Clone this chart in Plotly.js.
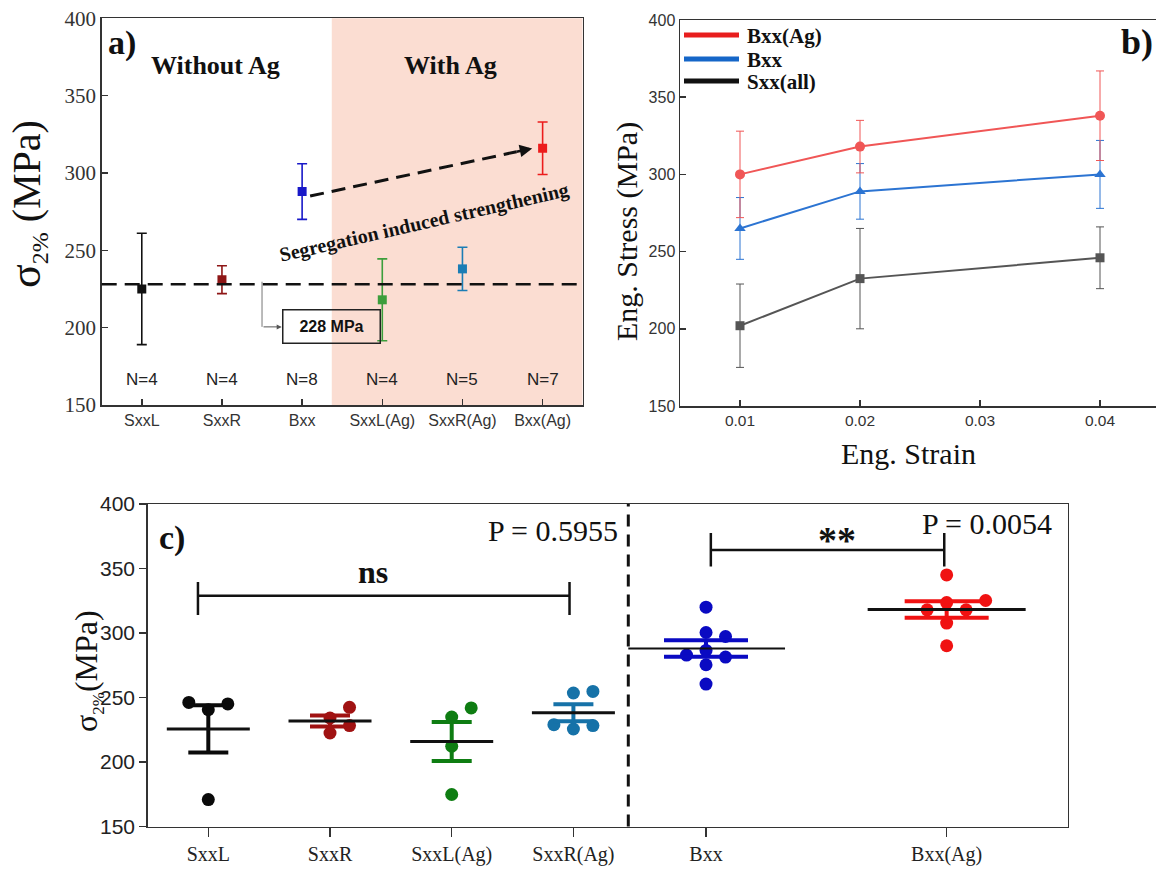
<!DOCTYPE html>
<html><head><meta charset="utf-8">
<script src="https://cdn.plot.ly/plotly-3.0.1.min.js"></script>
<style>html,body{margin:0;padding:0;overflow:hidden;background:#fff}#plot{width:1165px;height:875px}</style>
</head><body><div id="plot"></div>
<script>
// ================= DATA =================
// Panel a) : mean ± SD of sigma_2% per sample group
const aCategories = ['SxxL', 'SxxR', 'Bxx', 'SxxL(Ag)', 'SxxR(Ag)', 'Bxx(Ag)'];
const aMean = [225, 231, 288, 218, 238, 316];
const aSD   = [36, 9, 18, 26.5, 14, 17];
const aN    = [4, 4, 8, 4, 5, 7];
const refValue = 228;

// Panel b) : engineering stress vs strain
const bStrain   = [0.01, 0.02, 0.04];
const bBxxAg    = [300, 318, 338];
const bBxxAgErr = [28, 17, 29];
const bBxx      = [265, 289, 300];
const bBxxErr   = [20, 18, 22];
const bSxx      = [202, 232.5, 246];
const bSxxErr   = [27, 32.5, 20];
const bNames    = ['Bxx(Ag)', 'Bxx', 'Sxx(all)'];
const bTicks    = [0.01, 0.02, 0.03, 0.04];

// Panel c) : individual sigma_2% values
const cLeftCats  = ['SxxL', 'SxxR', 'SxxL(Ag)', 'SxxR(Ag)'];
const cRightCats = ['Bxx', 'Bxx(Ag)'];
const cSxxL   = [246.2, 245.0, 240.6, 170.9];
const cSxxR   = [242.4, 234.1, 228.2, 222.5];
const cSxxLAg = [241.9, 234.9, 212.2, 174.8];
const cSxxRAg = [254.7, 253.5, 228.9, 228.2, 225.6];
const cBxx    = [320.0, 300.4, 297.3, 286.5, 282.9, 281.3, 275.4, 260.4];
const cBxxAg  = [345.0, 325.2, 323.6, 318.0, 318.0, 307.7, 290.1];
const pLeft  = 'P = 0.5955';
const pRight = 'P = 0.0054';

// ================= STYLE / GEOMETRY =================
const W = 1165, H = 875;
const px = p => p / W, py = p => 1 - p / H;
const A = {l: 101.7, r: 582.7, t: 18.3, b: 405};
const B = {l: 680, r: 1160, t: 20, b: 406};
const C = {l: 147.7, m: 628.3, r: 1067.7, t: 504, b: 826.5};
const SERIF = 'Liberation Serif, Times New Roman, serif';
const SANS = 'Liberation Sans, Arial, sans-serif';
const aColors = ['#111111', '#8E1616', '#1818C8', '#3C9E3C', '#1A7DB5', '#EC1C1C'];
const bColors = ['#F05656', '#2C74D2', '#555555'];
const bLegendColors = ['#E81E1E', '#1566C8', '#111111'];
const bSymbols = ['circle', 'triangle-up', 'square'];
const cColors = {SxxL: '#0A0A0A', SxxR: '#A01212', 'SxxL(Ag)': '#0E7D12', 'SxxR(Ag)': '#1672A8', Bxx: '#0A0AC2', 'Bxx(Ag)': '#F01212'};
const LINE_EW = 1.4; // plotly draws line-ew with half-length 0.7*size

const aRange = [-0.5, 5.5];
const bRange = [0.005, 0.045];
const cLRange = [-0.498, 3.451];
const cRRange = [-0.323, 1.503];
const yRange = [150, 400];

const traces = [];

// ---- Panel a traces ----
aCategories.forEach((c, i) => {
  traces.push({
    type: 'scatter', mode: 'markers', xaxis: 'x', yaxis: 'y', name: c,
    x: [i], y: [aMean[i]],
    marker: {symbol: 'square', size: 9, color: aColors[i]},
    error_y: {type: 'data', array: [aSD[i]], visible: true, color: aColors[i], thickness: 1.6, width: 5},
    showlegend: false
  });
});

// ---- Panel b traces ----
const bSeries = [bBxxAg, bBxx, bSxx];
const bErrs = [bBxxAgErr, bBxxErr, bSxxErr];
[2, 1, 0].forEach(k => {
  traces.push({
    type: 'scatter', mode: 'lines+markers', xaxis: 'x2', yaxis: 'y2', name: bNames[k],
    x: bStrain, y: bSeries[k],
    line: {color: bColors[k], width: 2},
    marker: {symbol: bSymbols[k], size: k === 2 ? 9 : 10, color: bColors[k]},
    error_y: {type: 'data', array: bErrs[k], visible: true, color: bColors[k], thickness: 1, width: 4},
    showlegend: false
  });
});

// ---- Panel c traces (beeswarm, mean, SEM) ----
const pxPerVal = (C.b - C.t) / (yRange[1] - yRange[0]);
const unitL = (C.m - C.l) / (cLRange[1] - cLRange[0]);
const unitR = (C.r - C.m) / (cRRange[1] - cRRange[0]);
function swarm(values, unitPx, diam, step) {
  const order = values.map((v, i) => i).sort((a, b) => values[a] - values[b]);
  const placed = [], off = new Array(values.length);
  order.forEach(i => {
    const yp = values[i] * pxPerVal;
    for (let k = 0; k < 40; k++) {
      const slot = k === 0 ? 0 : (k % 2 ? (k + 1) / 2 : -k / 2);
      const xp = slot * step;
      if (placed.every(p => Math.hypot(p.x - xp, p.y - yp) >= diam)) {
        placed.push({x: xp, y: yp}); off[i] = xp / unitPx; break;
      }
    }
  });
  return off;
}
const cGroups = [
  {name: 'SxxL', vals: cSxxL, side: 'L', idx: 0},
  {name: 'SxxR', vals: cSxxR, side: 'L', idx: 1},
  {name: 'SxxL(Ag)', vals: cSxxLAg, side: 'L', idx: 2},
  {name: 'SxxR(Ag)', vals: cSxxRAg, side: 'L', idx: 3},
  {name: 'Bxx', vals: cBxx, side: 'R', idx: 0},
  {name: 'Bxx(Ag)', vals: cBxxAg, side: 'R', idx: 1}
];
cGroups.forEach(g => {
  const left = g.side === 'L';
  const xa = left ? 'x3' : 'x4', ya = left ? 'y3' : 'y4';
  const unit = left ? unitL : unitR;
  const offs = swarm(g.vals, unit, 14, 19.5);
  const n = g.vals.length;
  const mean = g.vals.reduce((s, v) => s + v, 0) / n;
  const sd = Math.sqrt(g.vals.reduce((s, v) => s + (v - mean) ** 2, 0) / (n - 1));
  const sem = sd / Math.sqrt(n);
  const col = cColors[g.name];
  traces.push({
    type: 'scatter', mode: 'markers', xaxis: xa, yaxis: ya, name: g.name,
    x: g.vals.map((v, i) => g.idx + offs[i]), y: g.vals,
    marker: {symbol: 'circle', size: 13, color: col}, showlegend: false
  });
  traces.push({
    type: 'scatter', mode: 'markers', xaxis: xa, yaxis: ya, name: g.name + ' SEM',
    x: [g.idx], y: [mean], marker: {size: 1, color: 'rgba(0,0,0,0)'},
    error_y: {type: 'data', array: [sem], visible: true, color: col, thickness: 4, width: left ? 20 : 42},
    showlegend: false
  });
  traces.push({
    type: 'scatter', mode: 'markers', xaxis: xa, yaxis: ya, name: g.name + ' mean',
    x: [g.idx], y: [mean],
    marker: {symbol: 'line-ew', size: (left ? 83 : 158) / LINE_EW, color: '#111',
      line: {color: '#111', width: left ? 3 : (g.name === 'Bxx' ? 2 : 3)}},
    showlegend: false
  });
});

// ================= LAYOUT =================
const frame = {showline: true, linecolor: '#333', linewidth: 1.5, showgrid: false, zeroline: false};
const layout = {
  width: W, height: H, margin: {l: 0, r: 0, t: 0, b: 0},
  paper_bgcolor: '#fff', plot_bgcolor: 'rgba(0,0,0,0)',
  font: {family: SERIF, color: '#111'},
  showlegend: false, hovermode: false,
  xaxis: Object.assign({}, frame, {domain: [px(A.l), px(A.r)], range: aRange, anchor: 'y', mirror: true,
    tickmode: 'array', tickvals: aCategories.map((c, i) => i), ticktext: aCategories,
    ticks: 'inside', ticklen: 6, tickcolor: '#333', tickwidth: 1.5,
    tickfont: {family: SANS, size: 16, color: '#333'}}),
  yaxis: Object.assign({}, frame, {domain: [py(A.b), py(A.t)], range: yRange, anchor: 'x', mirror: true,
    dtick: 50, ticks: 'inside', ticklen: 6, tickcolor: '#333', tickwidth: 1.5,
    tickfont: {family: SERIF, size: 21, color: '#333'}}),
  xaxis2: Object.assign({}, frame, {domain: [px(B.l), px(B.r)], range: bRange, anchor: 'y2', mirror: true,
    tickmode: 'array', tickvals: bTicks, tickformat: '.2f',
    ticks: 'inside', ticklen: 6, tickcolor: '#333', tickwidth: 1.5,
    tickfont: {family: SANS, size: 15.5, color: '#333'}}),
  yaxis2: Object.assign({}, frame, {domain: [py(B.b), py(B.t)], range: yRange, anchor: 'x2', mirror: true,
    dtick: 50, ticks: 'inside', ticklen: 6, tickcolor: '#333', tickwidth: 1.5,
    tickfont: {family: SANS, size: 16, color: '#333'}}),
  xaxis3: Object.assign({}, frame, {domain: [px(C.l), px(C.m)], range: cLRange, anchor: 'y3', mirror: true,
    tickmode: 'array', tickvals: cLeftCats.map((c, i) => i), ticktext: cLeftCats,
    ticks: 'outside', ticklen: 9, tickcolor: '#333', tickwidth: 1.5,
    tickfont: {family: SERIF, size: 20, color: '#222'}}),
  yaxis3: Object.assign({}, frame, {domain: [py(C.b), py(C.t)], range: yRange, anchor: 'x3',
    dtick: 50, ticks: 'outside', ticklen: 7, tickcolor: '#333', tickwidth: 1.5,
    tickfont: {family: SANS, size: 21, color: '#222'}}),
  xaxis4: Object.assign({}, frame, {domain: [px(C.m), px(C.r)], range: cRRange, anchor: 'y4', mirror: true,
    tickmode: 'array', tickvals: cRightCats.map((c, i) => i), ticktext: cRightCats,
    ticks: 'outside', ticklen: 9, tickcolor: '#333', tickwidth: 1.5,
    tickfont: {family: SERIF, size: 20, color: '#222'}}),
  yaxis4: Object.assign({}, frame, {domain: [py(C.b), py(C.t)], range: yRange, anchor: 'x4', matches: 'y3',
    side: 'right', ticks: '', showticklabels: false}),
  shapes: [],
  annotations: []
};
function note(xp, yp, text, font, extra) {
  layout.annotations.push(Object.assign({xref: 'paper', yref: 'paper', x: px(xp), y: py(yp),
    xanchor: 'center', yanchor: 'middle', text: text, showarrow: false, font: font}, extra || {}));
}

// ---- Panel a decorations ----
layout.shapes.push({type: 'rect', layer: 'below', xref: 'x', yref: 'y domain', x0: 2.37, x1: aRange[1], y0: 0, y1: 1,
  fillcolor: '#FBDDD2', line: {width: 0}});
layout.shapes.push({type: 'line', xref: 'x domain', yref: 'y', x0: 0, x1: 1, y0: refValue, y1: refValue,
  line: {color: '#111', width: 2.5, dash: '15px,8px'}});
// segregation arrow (Bxx -> Bxx(Ag))
const arrS = {x: 2.10, y: 285.1}, arrE = {x: 4.87, y: 315.9};
const tArr = 0.93;
const arrT = {x: arrS.x + (arrE.x - arrS.x) * tArr, y: arrS.y + (arrE.y - arrS.y) * tArr};
layout.shapes.push({type: 'line', xref: 'x', yref: 'y', x0: arrS.x, y0: arrS.y, x1: arrT.x, y1: arrT.y,
  line: {color: '#111', width: 3, dash: '14px,8px'}});
layout.annotations.push({xref: 'x', yref: 'y', axref: 'x', ayref: 'y', x: arrE.x, y: arrE.y, ax: arrT.x - 0.02, ay: arrT.y - 0.2,
  text: '', showarrow: true, arrowhead: 2, arrowsize: 1, arrowwidth: 2.5, arrowcolor: '#111', standoff: 0});
// 228 MPa call-out
layout.shapes.push({type: 'line', xref: 'x', yref: 'y', x0: 1.5, x1: 1.5, y0: 229.7, y1: 200.5, line: {color: '#777', width: 1}});
layout.annotations.push({xref: 'x', yref: 'y', axref: 'x', ayref: 'y', x: 1.745, y: 200.5, ax: 1.5, ay: 200.5,
  text: '', showarrow: true, arrowhead: 2, arrowsize: 1, arrowwidth: 1, arrowcolor: '#555', standoff: 0});
layout.annotations.push({xref: 'x', yref: 'y', x: 2.364, y: 200.5, xanchor: 'center', yanchor: 'middle',
  text: '<b>' + refValue + ' MPa</b>', showarrow: false,
  font: {family: SANS, size: 16, color: '#111'}, bordercolor: '#222', borderwidth: 1.5, borderpad: 2, width: 92, height: 28});
aN.forEach((n, i) => layout.annotations.push({xref: 'x', yref: 'y', x: i, y: 166.2, xanchor: 'center', yanchor: 'middle',
  text: 'N=' + n, showarrow: false, font: {family: SANS, size: 17, color: '#222'}}));
layout.annotations.push({xref: 'x', yref: 'y', x: 0.92, y: 369.8, xanchor: 'center', yanchor: 'middle',
  text: '<b>Without Ag</b>', showarrow: false, font: {family: SERIF, size: 26, color: '#111'}});
layout.annotations.push({xref: 'x', yref: 'y', x: 3.85, y: 369.8, xanchor: 'center', yanchor: 'middle',
  text: '<b>With Ag</b>', showarrow: false, font: {family: SERIF, size: 26, color: '#111'}});
layout.annotations.push({xref: 'x', yref: 'y', x: 3.52, y: 268.3, xanchor: 'center', yanchor: 'middle',
  text: '<b>Segregation induced strengthening</b>', textangle: -12.9, showarrow: false,
  font: {family: SERIF, size: 20, color: '#111'}});
note(106, 43, '<b>a)</b>', {family: SERIF, size: 34, color: '#111'}, {xanchor: 'left'});
note(27, 204, '<span style="font-size:44px">σ</span><sub><span style="font-size:24px">2%</span></sub> (MPa)',
  {family: SERIF, size: 40, color: '#111'}, {textangle: -90});

// ---- Panel b decorations ----
bNames.forEach((nm, k) => {
  const yy = [35, 59, 81][k];
  layout.shapes.push({type: 'line', xref: 'paper', yref: 'paper', x0: px(684), x1: px(739), y0: py(yy), y1: py(yy),
    line: {color: bLegendColors[k], width: 5}});
  note(745, yy + 1, '<b>' + nm + '</b>', {family: SERIF, size: 21, color: '#111'}, {xanchor: 'left'});
});
note(1155, 42, '<b>b)</b>', {family: SERIF, size: 36, color: '#111'}, {xanchor: 'right'});
note(627, 232, 'Eng. Stress (MPa)', {family: SERIF, size: 30, color: '#111'}, {textangle: -90});
note(908, 453, 'Eng. Strain', {family: SERIF, size: 30, color: '#111'});

// ---- Panel c decorations ----
layout.shapes.push({type: 'line', xref: 'x4 domain', yref: 'y3 domain', x0: 0, x1: 0, y0: 0, y1: 1,
  line: {color: '#111', width: 3, dash: '12px,8px'}});
function bracket(xa, ya, x0, x1, yBar, yLo, yHi) {
  return {type: 'path', xref: xa, yref: ya, line: {color: '#111', width: 2.5},
    path: `M${x0},${yLo} L${x0},${yHi} M${x0},${yBar} L${x1},${yBar} M${x1},${yLo} L${x1},${yHi}`};
}
layout.shapes.push(bracket('x3', 'y3', -0.085, 2.968, 328.8, 314, 339.6));
layout.shapes.push(bracket('x4', 'y4', 0.02, 0.99, 364.4, 351.5, 377.6));
note(373, 572, '<b>ns</b>', {family: SERIF, size: 32, color: '#111'});
note(837, 540, '<b>**</b>', {family: SERIF, size: 38, color: '#111'});
note(620, 530, pLeft, {family: SERIF, size: 30, color: '#111'}, {xanchor: 'right'});
note(986.5, 523, pRight, {family: SERIF, size: 30, color: '#111'});
note(157, 538, '<b>c)</b>', {family: SERIF, size: 34, color: '#111'}, {xanchor: 'left'});
note(88, 671, 'σ<sub><span style="font-size:17px">2%</span></sub>(MPa)', {family: SERIF, size: 32, color: '#111'}, {textangle: -90});

Plotly.newPlot('plot', traces, layout, {displayModeBar: false, staticPlot: true});
</script>
</body></html>
